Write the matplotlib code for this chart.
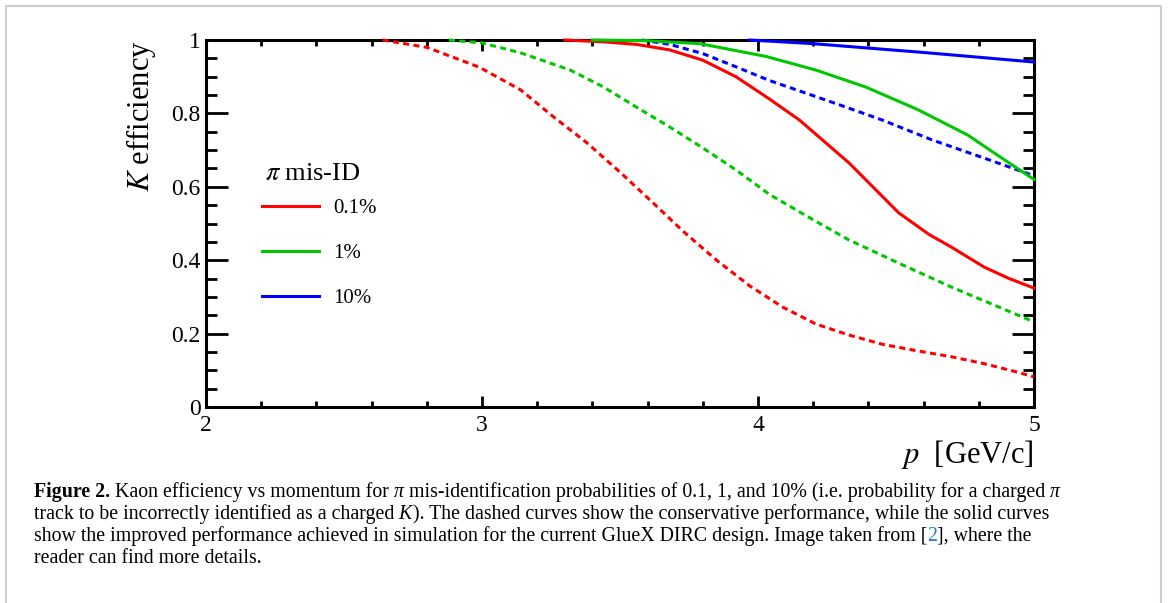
import matplotlib
matplotlib.use('Agg')
import matplotlib.pyplot as plt
from matplotlib.lines import Line2D
from matplotlib.ticker import MultipleLocator

plt.rcParams['font.family'] = ['Liberation Serif', 'DejaVu Serif']
plt.rcParams['mathtext.fontset'] = 'stix'

# conservative performance (dashed)
p_red_cons = [2.64, 2.80, 2.99, 3.14, 3.26, 3.38, 3.50, 3.62, 3.73, 3.85, 3.97, 4.09,
              4.21, 4.33, 4.45, 4.57, 4.70, 4.82, 4.94, 5.0]
eff_red_cons = [1.0, 0.98, 0.926, 0.864, 0.79, 0.72, 0.64, 0.556, 0.478, 0.40, 0.33, 0.272,
                0.226, 0.196, 0.171, 0.154, 0.137, 0.118, 0.095, 0.082]
p_green_cons = [2.88, 3.0, 3.14, 3.32, 3.44, 3.56, 3.68, 3.80, 3.92, 4.04, 4.20, 4.33,
                4.51, 4.70, 4.88, 5.0]
eff_green_cons = [1.0, 0.992, 0.965, 0.918, 0.872, 0.817, 0.763, 0.706, 0.646, 0.58, 0.51, 0.455,
                  0.392, 0.327, 0.27, 0.232]
p_blue_cons = [3.58, 3.68, 3.80, 3.92, 4.04, 4.27, 4.45, 4.63, 4.82, 5.0]
eff_blue_cons = [1.0, 0.988, 0.963, 0.927, 0.89, 0.83, 0.782, 0.728, 0.678, 0.63]

# improved performance (solid)
p_red_impr = [3.30, 3.44, 3.56, 3.68, 3.80, 3.92, 4.04, 4.15, 4.33, 4.51, 4.62, 4.70, 4.82, 4.91, 5.0]
eff_red_impr = [1.0, 0.995, 0.988, 0.973, 0.945, 0.90, 0.84, 0.782, 0.665, 0.529, 0.47, 0.436, 0.381, 0.35, 0.324]
p_green_impr = [3.40, 3.60, 3.79, 4.03, 4.21, 4.39, 4.58, 4.76, 4.88, 5.0]
eff_green_impr = [1.0, 0.998, 0.99, 0.955, 0.918, 0.872, 0.81, 0.741, 0.68, 0.62]
p_blue_impr = [3.97, 4.2, 4.4, 4.6, 4.8, 5.0]
eff_blue_impr = [1.0, 0.99, 0.978, 0.966, 0.953, 0.94]

legend_labels = ['0.1%', '1%', '10%']
colors = ['#ff0000', '#00c800', '#0000ff']
xtick_vals = [2, 3, 4, 5]
xtick_labels = ['2', '3', '4', '5']
ytick_vals = [0, 0.2, 0.4, 0.6, 0.8, 1.0]
ytick_labels = ['0', '0.2', '0.4', '0.6', '0.8', '1']

W, H = 1168, 603
fig = plt.figure(figsize=(W / 100, H / 100), dpi=100)
ax = fig.add_axes([206 / W, 1 - 407 / H, 828 / W, 367 / H])

lw = 2.2
dash = (2, 1.4)
cons = [(p_red_cons, eff_red_cons), (p_green_cons, eff_green_cons), (p_blue_cons, eff_blue_cons)]
impr = [(p_red_impr, eff_red_impr), (p_green_impr, eff_green_impr), (p_blue_impr, eff_blue_impr)]
for (p, e), c in zip(cons, colors):
    ax.plot(p, e, color=c, lw=lw, dashes=dash, clip_on=False, zorder=3)
for (p, e), c in zip(impr, colors):
    ax.plot(p, e, color=c, lw=lw, clip_on=False, zorder=3)

ax.set_xlim(2, 5)
ax.set_ylim(0, 1)
ax.set_xticks(xtick_vals)
ax.set_xticklabels(xtick_labels)
ax.set_yticks(ytick_vals)
ax.set_yticklabels(ytick_labels)
ax.xaxis.set_minor_locator(MultipleLocator(0.2))
ax.yaxis.set_minor_locator(MultipleLocator(0.05))
ax.tick_params(which='both', direction='in', top=True, right=True, width=2, labelsize=17)
ax.tick_params(axis='y', which='major', length=16, pad=4)
ax.tick_params(axis='y', which='minor', length=8)
ax.tick_params(axis='x', which='major', length=8, pad=6)
ax.tick_params(axis='x', which='minor', length=4)
for s in ax.spines.values():
    s.set_linewidth(2.2)

ax.set_ylabel('$K$ efficiency', fontsize=22, loc='top')
ax.yaxis.set_label_coords(-0.058, 1.0)
ax.set_xlabel('$p$  [GeV/c]', fontsize=22, loc='right')
ax.xaxis.set_label_coords(1.0, -0.085)

# legend: title drawn as its own text, entries through ax.legend
ax.text(0.071, 0.635, '$\\pi$ mis-ID', fontsize=19, va='center', ha='left', transform=ax.transAxes)
handles = [Line2D([], [], color=c, lw=lw) for c in colors]
ax.legend(handles, legend_labels, loc='upper left',
          bbox_to_anchor=(0.068, 0.568), frameon=False, fontsize=15,
          handlelength=2.7, handletextpad=0.7, labelspacing=1.22,
          borderaxespad=0, borderpad=0)

# frame around the figure
fig.add_artist(Line2D([6 / W, 6 / W, 1161 / W, 1161 / W], [0, 1 - 6 / H, 1 - 6 / H, 0],
                      transform=fig.transFigure, color='#cccccc', lw=1.5))

# caption
norm = dict()
bold = dict(fontweight='bold')
ital = dict(fontstyle='italic')
blue = dict(color='#2a7fc0')
caption = [
    [('Figure 2.', bold), (' Kaon efficiency vs momentum for', norm), (' π', ital),
     (' mis-identification probabilities of 0.1, 1, and 10% (i.e. probability for a charged', norm),
     (' π', ital)],
    [('track to be incorrectly identified as a charged', norm), (' K', ital),
     ('). The dashed curves show the conservative performance, while the solid curves', norm)],
    [('show the improved performance achieved in simulation for the current GlueX DIRC design. Image taken from [', norm),
     ('2', blue), ('], where the', norm)],
    [('reader can find more details.', norm)],
]
baselines = [497, 519, 541, 563]
r = fig.canvas.get_renderer()
for line, yb in zip(caption, baselines):
    x = 34
    for txt, kw in line:
        t = fig.text(x / W, 1 - yb / H, txt, fontsize=14.3, va='baseline', ha='left', **kw)
        x += t.get_window_extent(renderer=r).width

fig.savefig('out.png', dpi=100)
